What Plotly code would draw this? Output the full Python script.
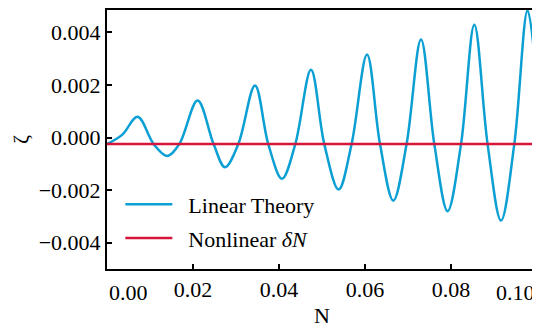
import plotly.graph_objects as go

# values
n_linear = [0.0, 0.0035, 0.00712, 0.01084, 0.01395, 0.01681, 0.02107, 0.02479,
            0.02744, 0.03053, 0.03442, 0.03751, 0.0407, 0.04379, 0.04744, 0.05053,
            0.05386, 0.05688, 0.06047, 0.06349, 0.06658, 0.06967, 0.07302, 0.07612,
            0.07921, 0.08233, 0.08542, 0.08851, 0.09163, 0.09472, 0.09781, 0.1]
zeta_linear = [-0.00025, 0.0001, 0.00079, -0.00025, -0.0007, -0.00025, 0.00141, -0.00025,
               -0.00113, -0.00025, 0.00198, -0.00025, -0.00157, -0.00025, 0.00258, -0.00025,
               -0.00198, -0.00025, 0.00316, -0.00025, -0.0024, -0.00025, 0.00373, -0.00025,
               -0.0028, -0.00025, 0.00429, -0.00025, -0.00316, -0.00025, 0.00484, 0.00198]

n_nonlinear = [0.0, 0.025, 0.05, 0.075, 0.1]
zeta_nonlinear = [-0.00025, -0.00025, -0.00025, -0.00025, -0.00025]

y_ticks = [-0.004, -0.002, 0.0, 0.002, 0.004]
x_ticks = [0.02, 0.04, 0.06, 0.08]
x_edge_labels = {0.0: "0.00", 0.1: "0.10"}

FAMILY = "Liberation Serif"
gap = "\u00a0\u00a0"  # little extra room between legend line and text


def serif(size=22):
    return dict(family=FAMILY, size=size, color="black")


fig = go.Figure()
fig.add_trace(go.Scatter(x=n_linear, y=zeta_linear, mode="lines", name=gap + "Linear Theory",
                         line=dict(color="#0b9fd3", width=2.5, shape="spline", smoothing=1.0),
                         legendgroup="a"))
fig.add_trace(go.Scatter(x=n_nonlinear, y=zeta_nonlinear, mode="lines",
                         name=gap + "Nonlinear <i>δN</i>",
                         line=dict(color="#d7153a", width=2.5), legendgroup="b"))

# first and last x labels sit inside the axis, like the reference
for xv, txt in x_edge_labels.items():
    fig.add_annotation(x=xv, y=0, xref="x", yref="paper", text=txt, showarrow=False,
                       xanchor="left" if xv == 0.0 else "right", yanchor="top",
                       yshift=-9, font=serif())

axis_style = dict(ticks="inside", ticklen=5, tickwidth=1.5, tickcolor="black",
                  showline=True, linecolor="black", linewidth=2, mirror=True,
                  showgrid=False, zeroline=False, tickfont=serif())

fig.update_layout(
    width=540, height=330,
    margin=dict(l=99, r=11, t=0, b=69),
    paper_bgcolor="white", plot_bgcolor="white",
    font=serif(),
    showlegend=True,
    legend=dict(x=0.031, y=0.33, xanchor="left", yanchor="top", bgcolor="rgba(0,0,0,0)",
                itemwidth=47, tracegroupgap=2, font=serif()),
    xaxis=dict(range=[0, 0.1], tickvals=x_ticks, tickformat=".2f",
               title=dict(text="N", standoff=6, font=serif()), **axis_style),
    yaxis=dict(range=[-0.005, 0.00485], tickvals=y_ticks, tickformat=".3f",
               title=dict(text="ζ", standoff=15, font=serif()), **axis_style),
)

fig.write_html("out.html")
